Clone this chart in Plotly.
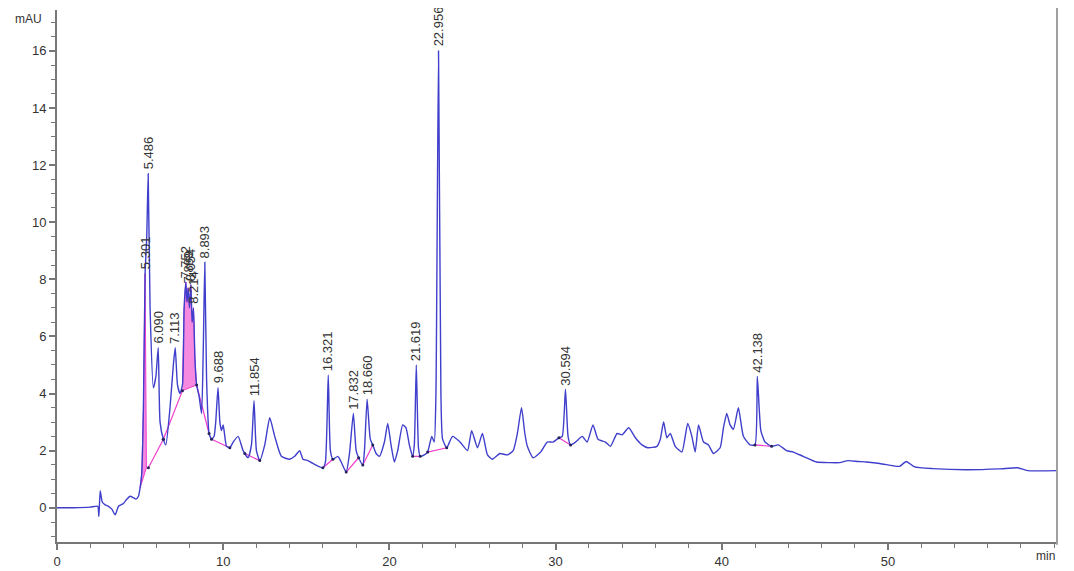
import plotly.graph_objects as go

# ---- chromatogram trace (retention time in min, absorbance in mAU) ----
time_min = [
    0.0, 1.0, 2.0, 2.45, 2.52, 2.6, 2.72, 2.9, 3.1, 3.3, 3.5, 3.7, 4.0, 4.2, 4.4, 4.6, 4.75, 4.9,
    5.0, 5.1, 5.2, 5.301, 5.4, 5.486, 5.6, 5.8, 5.95, 6.09, 6.2, 6.4, 6.55, 6.8, 7.0, 7.113,
    7.25, 7.4, 7.55, 7.65, 7.752, 7.82, 7.889, 7.97, 8.054, 8.13, 8.214, 8.3, 8.4, 8.55, 8.7,
    8.8, 8.893, 9.0, 9.15, 9.3, 9.45, 9.55, 9.688, 9.8, 9.9, 10.0, 10.2, 10.4, 10.6, 10.9,
    11.2, 11.5, 11.7, 11.854, 12.0, 12.2, 12.5, 12.8, 13.1, 13.5, 14.0, 14.3, 14.6, 14.8,
    15.1, 15.4, 16.0, 16.15, 16.321, 16.45, 16.6, 16.9, 17.1, 17.4, 17.6, 17.832, 18.0,
    18.15, 18.4, 18.5, 18.66, 18.85, 19.0, 19.2, 19.4, 19.7, 19.9, 20.1, 20.3, 20.5, 20.8,
    21.0, 21.2, 21.4, 21.5, 21.619, 21.75, 21.85, 22.1, 22.3, 22.55, 22.7, 22.8, 22.956,
    23.1, 23.2, 23.45, 23.8, 24.25, 24.7, 24.95, 25.3, 25.6, 25.9, 26.2, 26.65, 27.1, 27.45,
    27.7, 27.95, 28.15, 28.3, 28.65, 29.1, 29.5, 29.85, 30.2, 30.4, 30.594, 30.75, 30.9,
    31.2, 31.6, 31.9, 32.25, 32.55, 33.0, 33.3, 33.7, 34.0, 34.4, 34.8, 35.2, 35.55, 36.1,
    36.3, 36.5, 36.7, 36.9, 37.2, 37.6, 37.95, 38.2, 38.4, 38.6, 38.9, 39.2, 39.5, 39.9,
    40.1, 40.3, 40.5, 40.7, 41.0, 41.3, 41.7, 42.0, 42.138, 42.35, 42.6, 43.0, 43.4, 43.9,
    44.3, 44.9, 45.7, 46.5, 47.1, 47.6, 48.2, 48.7, 49.5, 50.3, 50.7, 51.1, 51.6, 52.7,
    54.7, 56.7, 57.8, 58.4, 60.2,
]
signal_mau = [
    0.0, 0.0, 0.02, 0.05, -0.3, 0.6, 0.2, 0.1, 0.05, -0.05, -0.25, 0.05, 0.15, 0.3, 0.4, 0.35, 0.3, 0.4,
    0.7, 1.2, 3.5, 8.2, 9.5, 11.7, 7.0, 4.2, 4.6, 5.6, 3.0, 2.4, 2.2, 3.5, 5.0, 5.6,
    4.3, 4.0, 4.3, 7.0, 7.9, 7.2, 7.7, 7.0, 7.8, 6.5, 7.0, 5.2, 4.3, 3.9, 3.3,
    5.5, 8.6, 4.5, 2.6, 2.4, 2.5, 3.0, 4.2, 3.0, 2.7, 2.9, 2.15, 2.1, 2.3, 2.5,
    2.0, 1.75, 2.2, 3.75, 2.0, 1.65, 2.2, 3.15, 2.5, 1.8, 1.7, 1.8, 2.0, 1.7,
    1.65, 1.55, 1.4, 1.6, 4.65, 2.0, 1.7, 1.8, 1.6, 1.25, 1.9, 3.3, 2.0,
    1.75, 1.5, 2.0, 3.8, 2.4, 2.2, 1.9, 1.8, 2.3, 2.95, 2.2, 1.6, 2.0, 2.9,
    2.8, 2.2, 1.8, 2.2, 5.0, 2.1, 1.8, 1.85, 1.95, 2.5, 2.3, 4.0, 16.0,
    4.0, 2.4, 2.1, 2.5, 2.3, 2.0, 2.7, 2.1, 2.6, 1.85, 1.7, 1.9, 1.85, 2.0,
    2.6, 3.5, 2.6, 2.15, 1.75, 1.95, 2.3, 2.3, 2.45, 2.5, 4.15, 2.5, 2.2,
    2.3, 2.5, 2.3, 2.9, 2.4, 2.3, 2.15, 2.6, 2.55, 2.8, 2.45, 2.2, 2.1, 2.15,
    2.4, 3.0, 2.45, 2.6, 2.15, 1.95, 2.95, 2.5, 1.95, 2.9, 2.3, 2.2, 1.9, 2.1,
    2.8, 3.3, 2.9, 2.75, 3.5, 2.5, 2.2, 2.2, 4.6, 2.7, 2.3, 2.15, 2.2, 2.0,
    1.95, 1.8, 1.6, 1.58, 1.58, 1.65, 1.62, 1.6, 1.55, 1.47, 1.45, 1.62, 1.43, 1.37,
    1.33, 1.36, 1.4, 1.3, 1.3,
]

# ---- labelled peaks (retention times) ----
peak_rt = [5.301, 5.486, 6.090, 7.113, 7.752, 7.889, 8.054, 8.214, 8.893, 9.688,
           11.854, 16.321, 17.832, 18.660, 21.619, 22.956, 30.594, 42.138]

# ---- integration baselines (t0, y0, t1, y1) ----
baseline_t0 = [5.5, 6.4, 8.4, 9.3, 11.3, 16.0, 17.4, 18.4, 21.4, 22.3, 30.2, 42.0]
baseline_y0 = [1.4, 2.4, 4.3, 2.4, 1.9, 1.4, 1.25, 1.5, 1.8, 1.95, 2.45, 2.2]
baseline_t1 = [6.4, 7.55, 9.15, 10.4, 12.2, 16.6, 18.15, 19.0, 21.85, 23.45, 30.9, 43.0]
baseline_y1 = [2.4, 4.1, 2.6, 2.1, 1.65, 1.7, 1.75, 2.2, 1.8, 2.1, 2.2, 2.15]

# pink filled regions: (start t, end t, baseline y at start, baseline y at end)
fill_t0 = [5.0, 7.55]
fill_t1 = [5.38, 8.4]
fill_y0 = [0.7, 4.1]
fill_y1 = [1.4, 4.3]

x_tick_vals = [0, 10, 20, 30, 40, 50]
y_tick_vals = [0, 2, 4, 6, 8, 10, 12, 14, 16]

BLUE = "#3f3fcc"
PINK = "#f03ccc"
AXIS = "#777777"
TXT = "#333333"
FONT = "Liberation Sans, Arial, sans-serif"

fig = go.Figure()

# pink filled areas under peaks
for a, b, ya, yb in zip(fill_t0, fill_t1, fill_y0, fill_y1):
    xs = [t for t in time_min if a <= t <= b]
    ys = [signal_mau[time_min.index(t)] for t in xs]
    px = xs + [b, a]
    py = ys + [yb, ya]
    fig.add_trace(go.Scatter(x=px, y=py, mode="lines", fill="toself",
                             fillcolor="rgba(240,60,204,0.6)",
                             line=dict(color=PINK, width=1), hoverinfo="skip",
                             showlegend=False))

# baselines
for t0, y0, t1, y1 in zip(baseline_t0, baseline_y0, baseline_t1, baseline_y1):
    fig.add_trace(go.Scatter(x=[t0, t1], y=[y0, y1], mode="lines",
                             line=dict(color=PINK, width=1.2), hoverinfo="skip",
                             showlegend=False))

# signal
fig.add_trace(go.Scatter(x=time_min, y=signal_mau, mode="lines",
                         line=dict(color=BLUE, width=1.4, shape="spline", smoothing=0.5),
                         showlegend=False))

# integration markers
fig.add_trace(go.Scatter(x=baseline_t0 + baseline_t1, y=baseline_y0 + baseline_y1,
                         mode="markers", marker=dict(color="#23235a", size=3),
                         hoverinfo="skip", showlegend=False))

# peak labels
for rt in peak_rt:
    idx = min(range(len(time_min)), key=lambda i: abs(time_min[i] - rt))
    fig.add_annotation(x=rt, y=signal_mau[idx], text=f"{rt:.3f}", textangle=-90,
                       showarrow=False, xanchor="center", yanchor="bottom", yshift=2,
                       font=dict(family=FONT, size=13, color=TXT))

# unit labels
fig.add_annotation(xref="paper", x=0, y=17.1, text="mAU", showarrow=False,
                   xanchor="right", yanchor="middle", xshift=-13,
                   font=dict(family=FONT, size=12, color=TXT))
fig.add_annotation(xref="paper", yref="paper", x=1, y=0, text="min", showarrow=False,
                   xanchor="right", yanchor="middle", yshift=-14,
                   font=dict(family=FONT, size=12, color=TXT))

# right frame line
fig.add_shape(type="line", xref="paper", yref="paper", x0=1, x1=1, y0=-0.005, y1=1.015,
              line=dict(color="#a0a0a0", width=2))

# the page body adds an 8px offset, so the figure is sized to compensate
fig.update_layout(
    width=1066, height=563,
    margin=dict(l=49, r=17, t=2, b=29),
    paper_bgcolor="white", plot_bgcolor="white",
    font=dict(family=FONT, color=TXT),
    xaxis=dict(range=[0, 60.17], tickvals=x_tick_vals, ticks="outside", ticklen=6,
               tickwidth=1.5, tickcolor=AXIS, showline=True, linecolor=AXIS, linewidth=2,
               showgrid=False, zeroline=False, tickfont=dict(size=13, color=TXT),
               automargin=False,
               minor=dict(dtick=2, tick0=0, ticks="outside", ticklen=4, tickcolor=AXIS,
                          tickwidth=1.2, showgrid=False)),
    yaxis=dict(range=[-1.2, 17.43], tickvals=y_tick_vals, ticks="outside", ticklen=6,
               tickwidth=1.5, tickcolor=AXIS, showline=True, linecolor=AXIS, linewidth=2,
               showgrid=False, zeroline=False, tickfont=dict(size=13, color=TXT),
               automargin=False,
               minor=dict(dtick=0.5, tick0=0, ticks="outside", ticklen=4, tickcolor=AXIS,
                          tickwidth=1.2, showgrid=False)),
)

fig.write_html("out.html")
